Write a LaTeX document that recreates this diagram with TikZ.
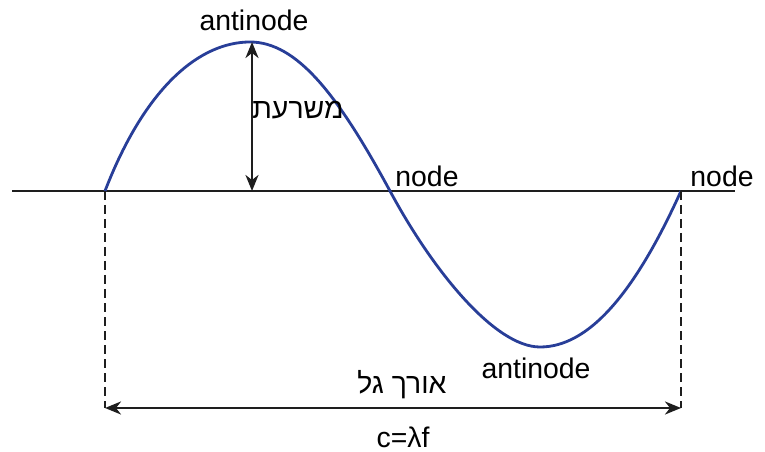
\documentclass[tikz,border=0pt]{standalone}
\usepackage{fontspec}
\setmainfont{Liberation Sans}
\newfontfamily\hebfont[Script=Hebrew]{Liberation Sans}
\TeXXeTstate=1
\usetikzlibrary{arrows.meta}
\definecolor{wave}{RGB}{40,62,152}
\definecolor{ink}{RGB}{30,30,30}
\begin{document}
\begin{tikzpicture}[x=1bp,y=-1bp,
  lbl/.style={font=\fontsize{28.5}{32}\selectfont, inner sep=0pt, text=black},
  axisline/.style={draw=ink, line width=2.6bp},
  dim/.style={draw=ink, line width=2.5bp, {Stealth[length=16bp,width=13bp,inset=5bp]}-{Stealth[length=16bp,width=13bp,inset=5bp]}},
  guide/.style={draw=ink, line width=2.4bp, dash pattern=on 9bp off 5bp},
  wavepath/.style={draw=wave, line width=2.8bp}]
\useasboundingbox (0,0) rectangle (765,452);
\coordinate (L) at (12,191);
\coordinate (R) at (735,191);
\coordinate (s0) at (105,191);
\coordinate (crest) at (250,42);
\coordinate (s1) at (390,191);
\coordinate (trough) at (540,347);
\coordinate (s2) at (681,191);
\coordinate (peak) at (252,42);
\coordinate (peakbase) at (252,191);
\coordinate (d0) at (105,408);
\coordinate (d2) at (681,408);
\draw[axisline] (L) -- (R);
\draw[wavepath] (s0) .. controls (146,85) and (201,42) .. (crest)
  .. controls (297,42) and (338,95) .. (s1)
  .. controls (433,271) and (495,347) .. (trough)
  .. controls (588,347) and (634,295) .. (s2);
\draw[dim] (peak) -- (peakbase);
\draw[guide] (s0) -- (d0);
\draw[guide] (s2) -- (d2);
\draw[dim] (d0) -- (d2);
\node[lbl] (antiA) at (254,20) {antinode};
\node[lbl] (amp) at (298,110) {\hebfont\beginR משרעת\endR};
\node[lbl] (nodeA) at (427,176) {node};
\node[lbl] (nodeB) at (722,176) {node};
\node[lbl] (antiB) at (536,368) {antinode};
\node[lbl] (wl) at (402,385) {\hebfont\beginR אורך גל\endR};
\node[lbl] (eq) at (403,437) {c=λf};
\end{tikzpicture}
\end{document}
